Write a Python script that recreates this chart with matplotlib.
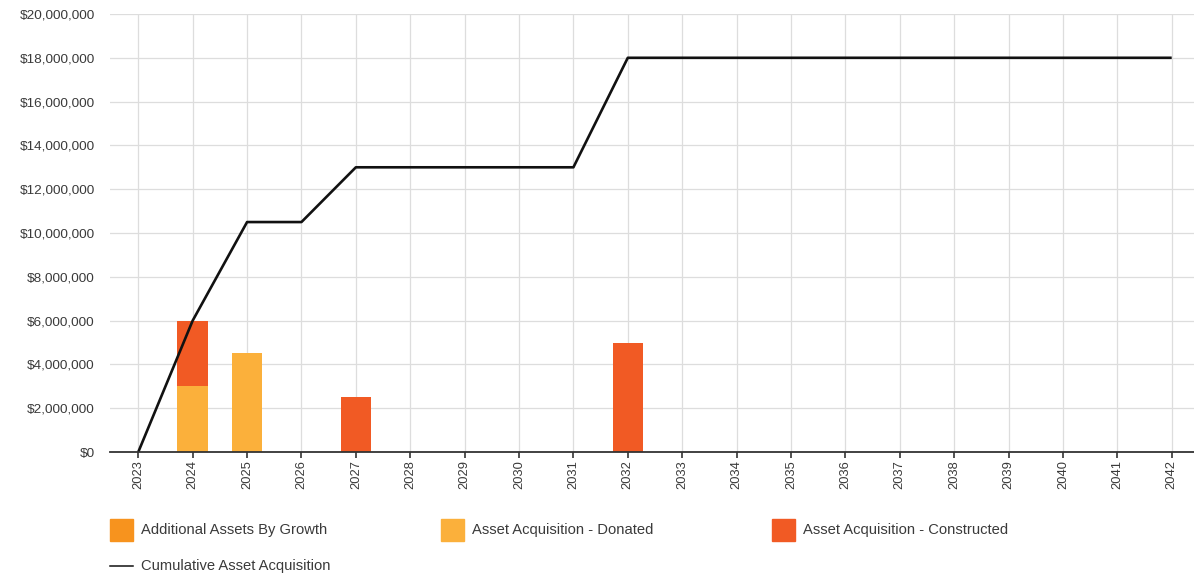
import matplotlib
matplotlib.use("Agg")
import matplotlib.pyplot as plt
from matplotlib.patches import Rectangle
from matplotlib.lines import Line2D
from matplotlib.ticker import FuncFormatter, MultipleLocator

plt.rcParams['font.family'] = ['Liberation Sans', 'DejaVu Sans']

years = list(range(2023, 2043))
growth = [0] * 20
donated = [0, 3000000, 4500000] + [0] * 17
constructed = [0, 3000000, 0, 0, 2500000, 0, 0, 0, 0, 5000000] + [0] * 10
cumulative = [0, 6000000, 10500000, 10500000, 13000000, 13000000, 13000000,
              13000000, 13000000, 18000000] + [18000000] * 10

series_names = ["Additional Assets By Growth", "Asset Acquisition - Donated",
                "Asset Acquisition - Constructed", "Cumulative Asset Acquisition"]
colors = ["#F7931E", "#FBB03B", "#F15A24"]
text_color = "#3a3a3a"

W, H = 1194, 575
fig = plt.figure(figsize=(W / 100, H / 100), dpi=100)
ax = fig.add_axes([110 / W, 1 - 452 / H, 1 - 110 / W, (452 - 14) / H])

bw = 0.56
ax.bar(years, growth, width=bw, color=colors[0], zorder=2)
ax.bar(years, donated, width=bw, color=colors[1], zorder=2)
ax.bar(years, constructed, width=bw, bottom=donated, color=colors[2], zorder=2)
ax.plot(years, cumulative, color="#111111", lw=1.9, zorder=3, solid_capstyle="butt")

ax.set_xlim(2022.48, 2042.41)
ax.set_ylim(0, 20000000)
ax.yaxis.set_major_locator(MultipleLocator(2000000))
ax.yaxis.set_major_formatter(FuncFormatter(lambda v, p: f"${v:,.0f}"))
ax.set_xticks(years)
ax.set_xticklabels([str(y) for y in years], rotation=90)

ax.grid(True, color="#dddddd", lw=0.9, zorder=0)
ax.set_axisbelow(True)
for s in ["top", "right", "left"]:
    ax.spines[s].set_visible(False)
ax.spines["bottom"].set_color("#333333")
ax.spines["bottom"].set_linewidth(1.3)
ax.spines["bottom"].set_zorder(4)
ax.tick_params(axis="x", length=4, width=1.2, color="#333333", labelsize=9.3,
               labelcolor=text_color, pad=2)
ax.tick_params(axis="y", length=0, labelsize=9.7, labelcolor=text_color, pad=11)

# legend drawn in figure pixel positions
def fx(px):
    return px / W

def fy(py):
    return 1 - py / H

for i, x0 in enumerate([110, 441, 772]):
    fig.patches.append(Rectangle((fx(x0), fy(541)), 23 / W, 22 / H,
                                 transform=fig.transFigure, color=colors[i]))
    fig.text(fx(x0 + 31), fy(530), series_names[i], fontsize=10.6,
             color=text_color, va="center", ha="left")
fig.lines.append(Line2D([fx(110), fx(133)], [fy(566), fy(566)],
                        transform=fig.transFigure, color="#111111", lw=1.1))
fig.text(fx(141), fy(566), series_names[3], fontsize=10.6, color=text_color,
         va="center", ha="left")

fig.savefig("out.png", dpi=100)
